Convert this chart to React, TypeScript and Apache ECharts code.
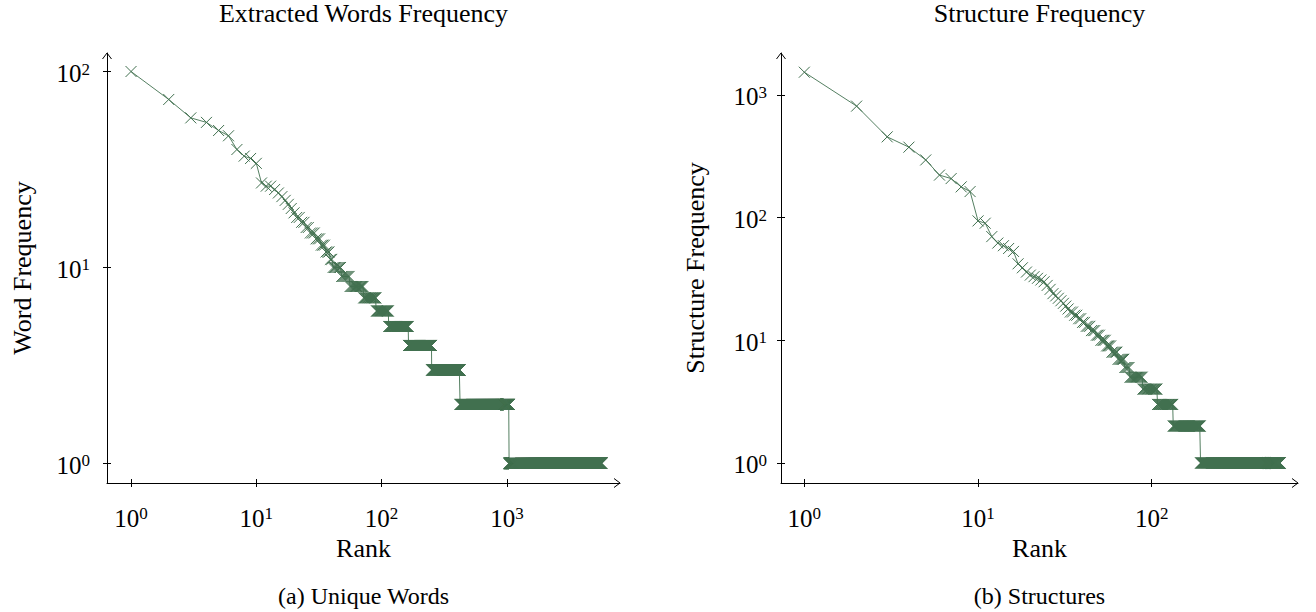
import { useEffect, useRef } from 'react';
import * as echarts from 'echarts';

// ---- data (rank -> frequency) ----
// Extracted words: explicit frequencies for ranks 1..40
const wordHeadFreq = [100, 72, 58, 55, 50, 47, 40, 37, 36, 34, 27, 26, 26, 25, 24, 23, 22, 21, 20, 19, 18, 18, 17, 17, 16, 16, 15, 15, 15, 14, 14, 14, 13, 13, 13, 12, 12, 12, 11, 11];
// then runs of equal frequency: [frequency, last rank of the run]
const wordTailRuns = [[10, 47], [9, 55], [8, 71], [7, 90], [6, 113], [5, 163], [4, 250], [3, 422], [2, 1040], [1, 5700]];

// Structures: explicit frequencies for ranks 1..50
const structHeadFreq = [1530, 810, 455, 375, 295, 222, 208, 178, 163, 94, 90, 70, 62, 59, 56, 53, 42, 39, 36, 34, 33, 32, 31, 30, 28, 26, 24, 23, 22, 21, 20, 19, 18, 17, 17, 16, 16, 15, 15, 14, 14, 13, 13, 13, 12, 12, 12, 11, 11, 11];
const structTailRuns = [[10, 54], [9, 58], [8, 63], [7, 69], [6, 74], [5, 88], [4, 107], [3, 132], [2, 190], [1, 548]];

const wordXTicks = [1, 10, 100, 1000];
const wordYTicks = [1, 10, 100];
const structXTicks = [1, 10, 100];
const structYTicks = [1, 10, 100, 1000];

const titles = ['Extracted Words Frequency', 'Structure Frequency'];
const xNames = ['Rank', 'Rank'];
const yNames = ['Word Frequency', 'Structure Frequency'];
const captions = ['(a) Unique Words', '(b) Structures'];

function expand(head: number[], runs: number[][]) {
  const pts: number[][] = head.map((f, i) => [i + 1, f]);
  let r = head.length;
  for (const [f, last] of runs) {
    while (r < last) {
      r++;
      pts.push([r, f]);
    }
  }
  return pts;
}

const FONT = '"Liberation Serif", "Times New Roman", serif';
const GREEN = '#41704f';

const panels = [
  { left: 107, top: 53, right: 620, bottom: 483, xMin: 0.643, xMax: 7991, yMin: 0.795, yMax: 124.3, yLabelMargin: 17, yNameX: 22.5 },
  { left: 781, top: 53, right: 1298, bottom: 483, xMin: 0.734, xMax: 695, yMin: 0.687, yMax: 2195, yLabelMargin: 14, yNameX: 695 },
];

const rich = {
  b: { fontFamily: FONT, fontSize: 25, lineHeight: 26, color: '#000' },
  s: { fontFamily: FONT, fontSize: 17, lineHeight: 17, verticalAlign: 'top', color: '#000' },
};
const fmt = (v: number) => `{b|10}{s|${Math.round(Math.log10(v))}}`;

export default function App() {
  const ref = useRef<HTMLDivElement>(null);
  useEffect(() => {
    if (!ref.current) return;
    const chart = echarts.init(ref.current, undefined, { renderer: 'svg' });
    const seriesData = [expand(wordHeadFreq, wordTailRuns), expand(structHeadFreq, structTailRuns)];
    const xTicks = [wordXTicks, structXTicks];
    const yTicks = [wordYTicks, structYTicks];

    const grids: any[] = [];
    const xAxes: any[] = [];
    const yAxes: any[] = [];
    const series: any[] = [];
    const graphic: any[] = [];

    panels.forEach((p, i) => {
      grids.push({ left: p.left, top: p.top, width: p.right - p.left, height: p.bottom - p.top, outerBoundsMode: 'none' });
      const xBase = { type: 'log', logBase: 10, gridIndex: i, min: p.xMin, max: p.xMax, position: 'bottom', splitLine: { show: false }, minorTick: { show: false } };
      const yBase = { type: 'log', logBase: 10, gridIndex: i, min: p.yMin, max: p.yMax, position: 'left', splitLine: { show: false }, minorTick: { show: false } };
      xAxes.push({
        ...xBase,
        axisLine: { show: true, onZero: false, lineStyle: { color: '#000', width: 1 } },
        axisTick: { show: true, inside: false, length: 4, customValues: xTicks[i], lineStyle: { color: '#000', width: 1 } },
        axisLabel: { show: true, customValues: xTicks[i], margin: 22, formatter: fmt, rich },
      });
      xAxes.push({
        ...xBase,
        axisLine: { show: false, onZero: false },
        axisTick: { show: true, inside: true, length: 4, customValues: xTicks[i], lineStyle: { color: '#000', width: 1 } },
        axisLabel: { show: false },
      });
      yAxes.push({
        ...yBase,
        axisLine: { show: true, onZero: false, lineStyle: { color: '#000', width: 1 } },
        axisTick: { show: true, inside: false, length: 4, customValues: yTicks[i], lineStyle: { color: '#000', width: 1 } },
        axisLabel: { show: true, customValues: yTicks[i], margin: p.yLabelMargin, formatter: fmt, rich, padding: [4, 0, 0, 0] },
      });
      yAxes.push({
        ...yBase,
        axisLine: { show: false, onZero: false },
        axisTick: { show: true, inside: true, length: 4, customValues: yTicks[i], lineStyle: { color: '#000', width: 1 } },
        axisLabel: { show: false },
      });
      series.push({
        type: 'line',
        xAxisIndex: i * 2,
        yAxisIndex: i * 2,
        data: seriesData[i],
        symbol: 'path://M0,0L10,10M10,0L0,10',
        symbolSize: 11,
        showSymbol: true,
        silent: true,
        itemStyle: { color: GREEN, borderColor: GREEN, borderWidth: 1 },
        lineStyle: { color: GREEN, width: 0.9 },
      });

      const cx = (p.left + p.right) / 2;
      const cy = (p.top + p.bottom) / 2;
      graphic.push(
        { type: 'text', left: undefined, x: cx, y: 13, style: { text: titles[i], font: `26px ${FONT}`, fill: '#000', align: 'center', verticalAlign: 'middle' } },
        { type: 'text', x: cx, y: 548, style: { text: xNames[i], font: `26px ${FONT}`, fill: '#000', align: 'center', verticalAlign: 'middle' } },
        { type: 'text', x: cx, y: 596, style: { text: captions[i], font: `24px ${FONT}`, fill: '#000', align: 'center', verticalAlign: 'middle' } },
        { type: 'text', x: p.yNameX, y: cy, rotation: Math.PI / 2, style: { text: yNames[i], font: `26px ${FONT}`, fill: '#000', align: 'center', verticalAlign: 'middle' } },
        { type: 'polyline', shape: { points: [[p.right - 6, p.bottom - 4.5], [p.right, p.bottom], [p.right - 6, p.bottom + 4.5]] }, style: { stroke: '#000', lineWidth: 1, fill: 'none' } },
        { type: 'polyline', shape: { points: [[p.left - 4.5, p.top + 6], [p.left, p.top], [p.left + 4.5, p.top + 6]] }, style: { stroke: '#000', lineWidth: 1, fill: 'none' } },
      );
    });

    chart.setOption({
      animation: false,
      backgroundColor: '#fff',
      grid: grids,
      xAxis: xAxes,
      yAxis: yAxes,
      series,
      graphic,
    });
    return () => chart.dispose();
  }, []);
  return <div ref={ref} style={{ position: 'fixed', left: 0, top: 0, width: 1316, height: 612 }} />;
}
